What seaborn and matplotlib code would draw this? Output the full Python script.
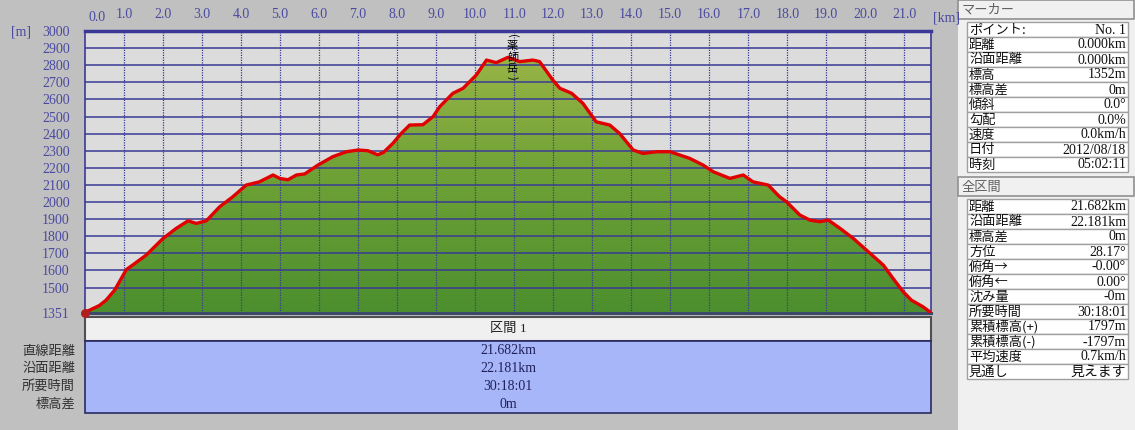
"""
Elevation profile of the Yakushidake route, drawn like the GPS software window
with the marker / whole-section panels on the right.
"""

import numpy as np
import matplotlib
matplotlib.use("Agg")
import matplotlib.pyplot as plt
from matplotlib.patches import Rectangle
import seaborn as sns

# profile data
dist_km = [0.0, 0.03, 0.37, 0.54, 0.76, 1.06, 1.22, 1.57, 2.0, 2.34, 2.64,
           2.85, 3.11, 3.45, 3.79, 4.13, 4.47, 4.82, 4.99, 5.2, 5.42, 5.63,
           5.97, 6.35, 6.7, 7.0, 7.25, 7.5, 7.65, 7.89, 8.1, 8.32, 8.66, 8.92,
           9.09, 9.43, 9.69, 10.03, 10.29, 10.54, 10.84, 11.14, 11.48, 11.65,
           11.99, 12.17, 12.47, 12.76, 13.1, 13.45, 13.7, 14.05, 14.3, 14.65,
           14.99, 15.24, 15.5, 15.84, 16.1, 16.53, 16.87, 17.12, 17.51, 17.8,
           17.98, 18.32, 18.58, 18.83, 19.05, 19.35, 19.69, 20.12, 20.46,
           20.71, 20.97, 21.18, 21.48, 21.65, 21.682]
elev_m = [1352, 1358, 1395, 1426, 1485, 1605, 1631, 1690, 1787, 1846, 1890,
          1875, 1890, 1972, 2031, 2099, 2118, 2158, 2138, 2130, 2158, 2164,
          2216, 2265, 2294, 2304, 2300, 2276, 2290, 2343, 2400, 2450, 2452,
          2499, 2557, 2636, 2665, 2743, 2830, 2815, 2846, 2821, 2830, 2821,
          2713, 2665, 2636, 2577, 2469, 2450, 2401, 2304, 2284, 2294, 2294,
          2275, 2255, 2216, 2177, 2138, 2158, 2118, 2099, 2031, 2001, 1924,
          1894, 1885, 1894, 1846, 1787, 1700, 1631, 1553, 1475, 1426, 1387,
          1358, 1352]

x_ticks = list(range(1, 22))
y_grid = list(range(1500, 3001, 100))
y_ticks = [1351] + y_grid
peak_chars = ["(", "薬", "師", "岳", ")"]
peak_km = 10.95

# summary table under the chart
section_title = "区間 1"
section_labels = ["直線距離", "沿面距離", "所要時間", "標高差"]
section_values = ["21.682km", "22.181km", "30:18:01", "0m"]

# right hand panels
marker_title = "マーカー"
marker_labels = ["ポイント:", "距離", "沿面距離", "標高", "標高差", "傾斜",
                 "勾配", "速度", "日付", "時刻"]
marker_values = ["No. 1", "0.000km", "0.000km", "1352m", "0m", "0.0°",
                 "0.0%", "0.0km/h", "2012/08/18", "05:02:11"]
total_title = "全区間"
total_labels = ["距離", "沿面距離", "標高差", "方位", "俯角→", "俯角←",
                "沈み量", "所要時間", "累積標高(+)", "累積標高(-)", "平均速度",
                "見通し"]
total_values = ["21.682km", "22.181km", "0m", "28.17°", "-0.00°", "0.00°",
                "-0m", "30:18:01", "1797m", "-1797m", "0.7km/h", "見えます"]

W, H = 1135, 430
NAVY = "#3a3a96"
TICK = "#4a4aa0"
NUM_FONT = ["Liberation Serif", "Noto Sans CJK JP", "DejaVu Sans"]
JP_FONT = ["Noto Sans CJK JP", "DejaVu Sans"]


def draw_profile(fig):
    """Elevation chart with gradient fill, grid and km / m labels"""

    x0, x1, y0, y1 = 85, 931, 31, 313
    ax = fig.add_axes([x0 / W, 1 - y1 / H, (x1 - x0) / W, (y1 - y0) / H])
    ax.set_zorder(2)
    ax.set_facecolor("#dcdcdc")
    xmax = dist_km[-1]
    ax.set_xlim(0, xmax)
    ax.set_ylim(1351, 3000)

    # green gradient fill clipped to the profile
    poly = ax.fill_between(dist_km, elev_m, 1351, facecolor="none",
                           edgecolor="none")
    grad = np.linspace(0, 1, 256).reshape(-1, 1)
    cmap = matplotlib.colors.LinearSegmentedColormap.from_list(
        "g", ["#4c8f2e", "#6fa236", "#a2b84a"])
    img = ax.imshow(grad, cmap=cmap, aspect="auto", origin="lower",
                    extent=[0, xmax, 1351, 3000], zorder=1)
    img.set_clip_path(poly.get_paths()[0], transform=ax.transData)

    # grid over the fill
    ax.hlines(y_grid, 0, xmax, color=NAVY, lw=1.1, zorder=3)
    ax.vlines(x_ticks, 1351, 3000, color=NAVY, lw=0.9, linestyles=(0, (1, 1)),
              zorder=3)

    sns.lineplot(x=dist_km, y=elev_m, ax=ax, color="#e00000", lw=2.4,
                 estimator=None, sort=False, zorder=4)
    ax.scatter(dist_km[:1], elev_m[:1], s=30, color="#b02020", zorder=5,
               clip_on=False)

    # summit name written vertically, brackets turned on their side
    offsets = [-5, -15, -27, -38, -47]
    for ch, dy in zip(peak_chars, offsets):
        rot = -90 if ch in "()" else 0
        ax.annotate(ch, (peak_km, 3000), xytext=(0, dy),
                    textcoords="offset pixels", ha="center", va="center",
                    rotation=rot, fontsize=8, family=JP_FONT, color="black",
                    zorder=5)

    # axis labels on top and left
    ax.xaxis.tick_top()
    ax.set_xticks(x_ticks)
    ax.set_xticklabels([f"{t:.1f}" for t in x_ticks])
    ax.set_yticks(y_ticks)
    ax.set_yticklabels([str(t) for t in y_ticks])
    ax.tick_params(axis="x", length=0, pad=7, labelsize=10, labelcolor=TICK)
    ax.tick_params(axis="y", length=0, pad=11, labelsize=10, labelcolor=TICK)
    for lab in ax.get_xticklabels() + ax.get_yticklabels():
        lab.set_family(NUM_FONT)
    ax.set_xlabel("")
    ax.set_ylabel("")
    ax.text(0.014, 1.047, "0.0", transform=ax.transAxes, ha="center",
            va="center", fontsize=10, color=TICK, family=NUM_FONT)
    ax.text(1.018, 1.047, "[km]", transform=ax.transAxes, ha="center",
            va="center", fontsize=10, color=TICK, family=NUM_FONT)
    ax.text(-0.088, 0.995, "[m]", transform=ax.transAxes, ha="left",
            va="center", fontsize=10, color=TICK, family=NUM_FONT)

    for side in ["left", "right"]:
        ax.spines[side].set_color(NAVY)
        ax.spines[side].set_linewidth(1.2)
    ax.spines["top"].set_color(NAVY)
    ax.spines["top"].set_linewidth(2.5)
    ax.spines["bottom"].set_color("#3c4a6a")
    ax.spines["bottom"].set_linewidth(2.2)
    return ax


def draw_section_table(bg):
    """White title bar and the blue block with the section values"""

    bg.add_patch(Rectangle((85, 317), 846, 24, facecolor="#f0f0f0",
                           edgecolor="#505050", lw=1.5))
    bg.text(508, 329, section_title, ha="center", va="center", fontsize=9.5,
            family=NUM_FONT, color="#202020")
    bg.add_patch(Rectangle((85, 341), 846, 72, facecolor="#a6b6f8",
                           edgecolor="#2a2a60", lw=1.2))
    for i, (lab, val) in enumerate(zip(section_labels, section_values)):
        yy = 351 + i * 17.7
        bg.text(75, yy, lab, ha="right", va="center", fontsize=9.5,
                family=JP_FONT, color="#303030")
        bg.text(508, yy, val, ha="center", va="center", fontsize=10,
                family=NUM_FONT, color="#20205a")


def draw_info_panel(bg, top, title, labels, values):
    """One header bar plus a two column table of the right hand panel"""

    bg.add_patch(Rectangle((958, top), 176, 19, facecolor="#f0f0f0",
                           edgecolor="#909090", lw=1.2))
    bg.text(962, top + 10, title, ha="left", va="center", fontsize=9.5,
            family=JP_FONT, color="#606060")
    row_h = 15
    t0 = top + 22
    for i, (lab, val) in enumerate(zip(labels, values)):
        yy = t0 + i * row_h
        bg.add_patch(Rectangle((967, yy), 161, row_h, facecolor="white",
                               edgecolor="#a0a0a0", lw=1))
        bg.text(969, yy + row_h / 2 + 0.5, lab, ha="left", va="center",
                fontsize=9.5, family=JP_FONT, color="#101010")
        bg.text(1126, yy + row_h / 2 + 0.5, val, ha="right", va="center",
                fontsize=10, family=NUM_FONT, color="#101010")


if __name__ == "__main__":

    sns.set_style("white")
    plt.rcParams["font.family"] = JP_FONT

    fig = plt.figure(figsize=(W / 100, H / 100), dpi=100)
    fig.patch.set_facecolor("#c0c0c0")

    # background axes in pixel coordinates for the window furniture
    bg = fig.add_axes([0, 0, 1, 1])
    bg.set_xlim(0, W)
    bg.set_ylim(H, 0)
    bg.axis("off")
    bg.add_patch(Rectangle((958, 0), W - 958, H, facecolor="#f0f0f0",
                           edgecolor="none"))

    draw_profile(fig)
    draw_section_table(bg)
    draw_info_panel(bg, 0, marker_title, marker_labels, marker_values)
    draw_info_panel(bg, 177, total_title, total_labels, total_values)

    fig.savefig("out.png", dpi=100, facecolor=fig.get_facecolor())
